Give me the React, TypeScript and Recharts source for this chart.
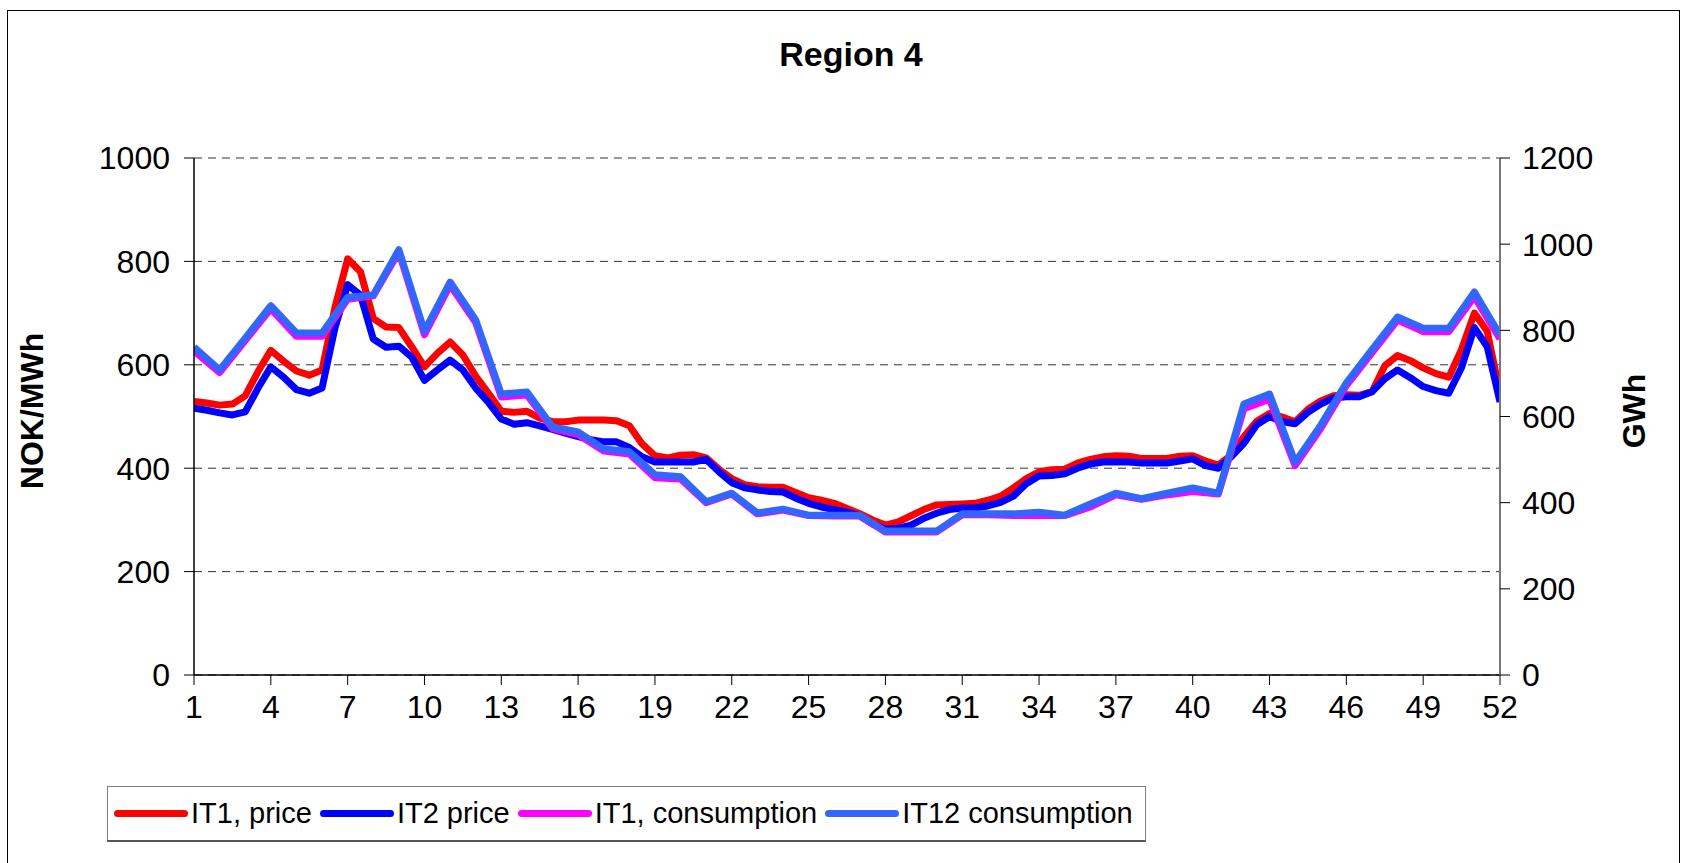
import { LineChart, Line, XAxis, YAxis, CartesianGrid } from "recharts";

// price series are read at half-week steps, consumption weekly
const priceWeeks = [
  1, 1.5, 2, 2.5, 3, 3.5, 4, 4.5, 5, 5.5, 6, 6.5, 7, 7.5, 8, 8.5, 9, 9.5, 10, 10.5,
  11, 11.5, 12, 12.5, 13, 13.5, 14, 14.5, 15, 15.5, 16, 16.5, 17, 17.5, 18, 18.5, 19, 19.5, 20, 20.5,
  21, 21.5, 22, 22.5, 23, 23.5, 24, 24.5, 25, 25.5, 26, 26.5, 27, 27.5, 28, 28.5, 29, 29.5, 30, 30.5,
  31, 31.5, 32, 32.5, 33, 33.5, 34, 34.5, 35, 35.5, 36, 36.5, 37, 37.5, 38, 38.5, 39, 39.5, 40, 40.5,
  41, 41.5, 42, 42.5, 43, 43.5, 44, 44.5, 45, 45.5, 46, 46.5, 47, 47.5, 48, 48.5, 49, 49.5, 50, 50.5,
  51, 51.5, 52,
];

const it1Price = [
  529, 526, 522, 524, 540, 587, 628, 607, 588, 580, 590, 710, 805, 780, 690, 673, 672, 635, 596, 622,
  644, 619, 578, 545, 510, 508, 510, 497, 490, 490, 493, 493, 493, 492, 482, 447, 424, 420, 425, 426,
  420, 398, 380, 368, 364, 363, 363, 353, 343, 338, 332, 322, 312, 300, 290, 296, 308, 320, 329, 330,
  331, 332, 338, 346, 362, 380, 393, 397, 398, 410, 417, 422, 424, 423, 419, 419, 419, 423, 424, 414,
  406, 425, 461, 491, 506, 499, 490, 514, 530, 540, 542, 541, 548, 598, 618, 608, 594, 583, 576, 630,
  700, 665, 545,
];

const it2Price = [
  516, 512, 507, 503, 509, 555, 596, 576, 552, 545, 555, 670, 755, 735, 650, 634, 636, 615, 570, 590,
  609, 590, 555, 527, 495, 485, 488, 482, 475, 468, 461, 455, 451, 451, 440, 422, 412, 412, 412, 412,
  417, 393, 372, 362, 358, 355, 354, 342, 332, 325, 320, 315, 308, 292, 282, 284, 290, 303, 313, 320,
  323, 323, 327, 334, 346, 370, 385, 386, 389, 400, 408, 412, 412, 412, 410, 410, 410, 414, 418, 405,
  400, 422, 448, 484, 500, 490, 486, 508, 524, 536, 538, 538, 548, 573, 590, 575, 558, 550, 545, 595,
  672, 635, 528,
];

const weeks = [
  1, 2, 3, 4, 5, 6, 7, 8, 9, 10, 11, 12, 13, 14, 15, 16, 17, 18, 19, 20, 21, 22, 23, 24, 25, 26,
  27, 28, 29, 30, 31, 32, 33, 34, 35, 36, 37, 38, 39, 40, 41, 42, 43, 44, 45, 46, 47, 48, 49, 50, 51, 52,
];

const it1Consumption = [
  752, 702, 776, 850, 786, 786, 872, 880, 982, 790, 905, 818, 645, 650, 572, 558, 520, 513, 458, 455,
  400, 420, 374, 383, 370, 369, 369, 332, 332, 332, 372, 372, 370, 370, 370, 390, 418, 408, 418, 426,
  420, 618, 640, 486, 572, 672, 748, 824, 797, 797, 878, 780,
];

const it12Consumption = [
  761, 708, 782, 857, 794, 794, 877, 882, 987, 798, 912, 824, 652, 657, 576, 564, 525, 518, 465, 460,
  402, 422, 376, 385, 371, 371, 371, 334, 334, 334, 374, 374, 374, 378, 371, 397, 422, 409, 422, 434,
  422, 629, 652, 494, 580, 678, 755, 831, 805, 805, 889, 789,
];

const weekTicks = [1, 4, 7, 10, 13, 16, 19, 22, 25, 28, 31, 34, 37, 40, 43, 46, 49, 52];
const priceTicks = [0, 200, 400, 600, 800, 1000];
const gwhTicks = [0, 200, 400, 600, 800, 1000, 1200];

const series = [
  { key: "it1Price", label: "IT1, price", color: "#ff0000" },
  { key: "it2Price", label: "IT2 price", color: "#0000ff" },
  { key: "it1Cons", label: "IT1, consumption", color: "#ff00ff" },
  { key: "it12Cons", label: "IT12 consumption", color: "#3366ff" },
];

const priceData = priceWeeks.map((w, i) => ({ week: w, it1Price: it1Price[i], it2Price: it2Price[i] }));
const consData = weeks.map((w, i) => ({ week: w, it1Cons: it1Consumption[i], it12Cons: it12Consumption[i] }));

const font = "'Liberation Sans', Arial, sans-serif";
const tickStyle = { fontSize: 32, fill: "#000", fontFamily: font };

export default function App() {
  return (
    <div style={{ position: "absolute", left: 0, top: 0, width: 1683, height: 863, overflow: "hidden", background: "#fff", fontFamily: font }}>
      <div style={{ position: "absolute", left: 7, top: 10, width: 1671, height: 900, border: "1px solid #000" }} />
      <div style={{ position: "absolute", left: 851, top: 54, transform: "translate(-50%, -50%)", fontSize: 34, fontWeight: "bold", whiteSpace: "nowrap" }}>
        Region 4
      </div>
      <LineChart width={1683} height={863} data={priceData} margin={{ top: 158, right: 103, bottom: 128, left: 114 }}
        style={{ position: "absolute", left: 0, top: 0 }}>
        <CartesianGrid yAxisId="left" vertical={false} stroke="#333" strokeDasharray="8 6" />
        <XAxis dataKey="week" type="number" domain={[1, 52]} ticks={weekTicks} interval={0} height={60}
          tick={tickStyle} tickSize={10} tickMargin={10} axisLine={{ stroke: "#000", strokeWidth: 1.5 }}
          tickLine={{ stroke: "#000" }} allowDataOverflow />
        <YAxis yAxisId="left" domain={[0, 1000]} ticks={priceTicks} width={80} tick={tickStyle}
          tickSize={10} tickMargin={14} axisLine={{ stroke: "#000", strokeWidth: 1.5 }} tickLine={{ stroke: "#000" }} />
        <YAxis yAxisId="right" orientation="right" domain={[0, 1200]} ticks={gwhTicks} width={80} tick={tickStyle}
          tickSize={10} tickMargin={12} axisLine={{ stroke: "#777", strokeWidth: 2 }} tickLine={{ stroke: "#000" }} />
        <Line yAxisId="left" data={priceData} dataKey="it1Price" stroke="#ff0000" strokeWidth={7} dot={false}
          type="linear" strokeLinejoin="round" isAnimationActive={false} />
        <Line yAxisId="left" data={priceData} dataKey="it2Price" stroke="#0000ff" strokeWidth={7} dot={false}
          type="linear" strokeLinejoin="round" isAnimationActive={false} />
        <Line yAxisId="right" data={consData} dataKey="it1Cons" stroke="#ff00ff" strokeWidth={7} dot={false}
          type="linear" strokeLinejoin="round" isAnimationActive={false} />
        <Line yAxisId="right" data={consData} dataKey="it12Cons" stroke="#3366ff" strokeWidth={7} dot={false}
          type="linear" strokeLinejoin="round" isAnimationActive={false} />
      </LineChart>
      <div style={{ position: "absolute", left: 32, top: 411, transform: "translate(-50%, -50%) rotate(-90deg)", fontSize: 32, fontWeight: "bold", whiteSpace: "nowrap" }}>
        NOK/MWh
      </div>
      <div style={{ position: "absolute", left: 1634, top: 411, transform: "translate(-50%, -50%) rotate(-90deg)", fontSize: 32, fontWeight: "bold", whiteSpace: "nowrap" }}>
        GWh
      </div>
      <div style={{ position: "absolute", left: 107, top: 786, width: 1031, height: 53, border: "1px solid #808080",
        borderBottom: "2px solid #555", display: "flex", alignItems: "center", paddingLeft: 6, boxSizing: "content-box" }}>
        {series.map((s) => (
          <div key={s.key} style={{ display: "flex", alignItems: "center", marginRight: 8 }}>
            <div style={{ width: 74, height: 7, borderRadius: 4, background: s.color, marginRight: 3 }} />
            <span style={{ fontSize: 29, whiteSpace: "nowrap" }}>{s.label}</span>
          </div>
        ))}
      </div>
    </div>
  );
}
